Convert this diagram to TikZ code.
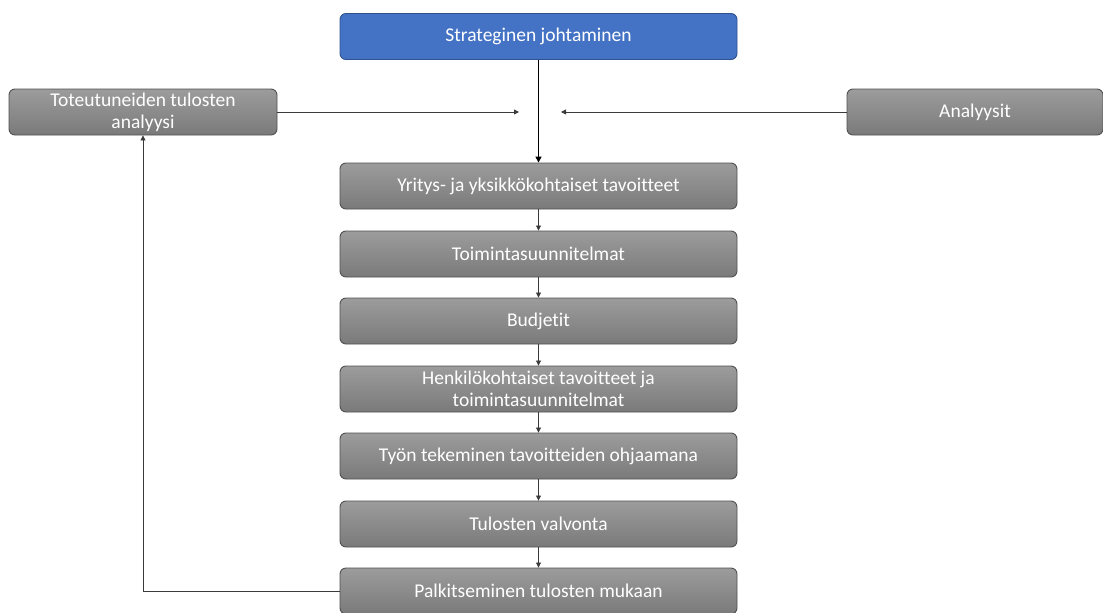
\documentclass[tikz,border=0pt]{standalone}
\usepackage{fontspec}
\setmainfont[Ligatures=NoCommon]{Carlito}
\usetikzlibrary{arrows.meta}
\definecolor{bluefill}{HTML}{4472C4}
\definecolor{blueedge}{HTML}{2F528F}
\definecolor{graytop}{HTML}{9C9C9C}
\definecolor{graybot}{HTML}{7A7A7A}
\definecolor{grayedge}{HTML}{505050}
\definecolor{linkcol}{HTML}{3A3A3A}
\tikzset{
  box/.style={draw, rounded corners=6pt, minimum height=46pt, text=white,
    font=\fontsize{19.5}{22}\selectfont, align=center, inner sep=1pt, line width=0.9pt},
  graybox/.style={box, draw=grayedge, top color=graytop, bottom color=graybot},
  bluebox/.style={box, draw=blueedge, fill=bluefill},
  link/.style={draw=linkcol, line width=0.8pt, -{Triangle[length=5pt,width=5pt]}},
  mainlink/.style={draw=black, line width=1.4pt, -{Triangle[length=6pt,width=6pt]}}
}
\begin{document}
\begin{tikzpicture}[x=1pt,y=-1pt]
\useasboundingbox (0,0) rectangle (1103,613);
% main column
\node[bluebox, minimum width=397pt] (strat) at (538.5,36.5) {Strateginen johtaminen};
\node[graybox, minimum width=397pt] (yritys) at (538.5,186) {Yritys- ja yksikkökohtaiset tavoitteet};
\node[graybox, minimum width=397pt] (toim) at (538.5,254) {Toimintasuunnitelmat};
\node[graybox, minimum width=397pt] (budj) at (538.5,321) {Budjetit};
\node[graybox, minimum width=397pt] (henk) at (538.5,389) {Henkilökohtaiset tavoitteet ja\\toimintasuunnitelmat};
\node[graybox, minimum width=397pt] (tyon) at (538.5,456) {Työn tekeminen tavoitteiden ohjaamana};
\node[graybox, minimum width=397pt] (valv) at (538.5,524) {Tulosten valvonta};
\node[graybox, minimum width=397pt] (palk) at (538.5,591) {Palkitseminen tulosten mukaan};
% side boxes
\node[graybox, minimum width=268pt] (tot) at (143,112) {Toteutuneiden tulosten\\analyysi};
\node[graybox, minimum width=256pt] (anal) at (975,112) {Analyysit};
% free ends of the side arrows
\coordinate (inL) at (519,112);
\coordinate (inR) at (561,112);
% connectors
\draw[mainlink] (strat) -- (yritys);
\draw[link] (yritys) -- (toim);
\draw[link] (toim) -- (budj);
\draw[link] (budj) -- (henk);
\draw[link] (henk) -- (tyon);
\draw[link] (tyon) -- (valv);
\draw[link] (valv) -- (palk);
\draw[link] (tot.east) -- (inL);
\draw[link] (anal.west) -- (inR);
\draw[link] (palk.west) -| (tot.south);
\end{tikzpicture}
\end{document}
